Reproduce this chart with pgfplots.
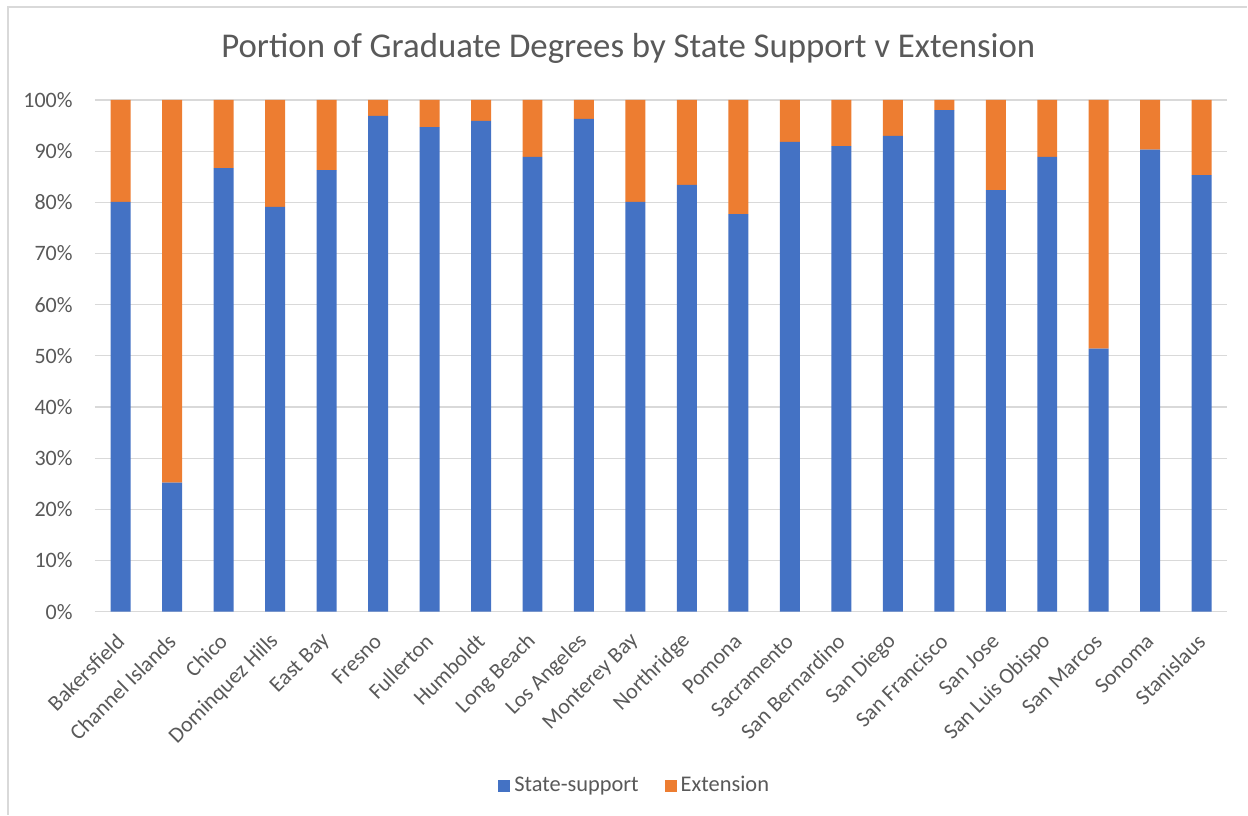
\documentclass[border=0pt]{standalone}
\usepackage{fontspec}
\setmainfont{Carlito}
\usepackage{pgfplots}
\pgfplotsset{compat=1.18}
\definecolor{statec}{HTML}{4472C4}
\definecolor{extc}{HTML}{ED7D31}
\definecolor{gridc}{HTML}{D9D9D9}
\definecolor{txt}{HTML}{595959}

\pgfplotstableread{
idx state ext
0  80.1 19.9
1  25.2 74.8
2  86.7 13.3
3  79.1 20.9
4  86.3 13.7
5  96.9 3.1
6  94.7 5.3
7  95.9 4.1
8  88.9 11.1
9  96.3 3.7
10 80.1 19.9
11 83.4 16.6
12 77.7 22.3
13 91.8 8.2
14 91.0 9.0
15 93.0 7.0
16 98.0 2.0
17 82.4 17.6
18 88.9 11.1
19 51.4 48.6
20 90.3 9.7
21 85.3 14.7
}\grad

\begin{document}
\begin{tikzpicture}[x=1pt,y=1pt]
% chart area and its frame (1px = 0.5pt)
\path (0,0) rectangle (624,407.5);
\draw[gridc, line width=0.6pt] (4,0) -- (4,404) -- (624,404);
\node[txt, font=\fontsize{17.4}{19}\selectfont] at (314.3,383.5)
  {Portion of Graduate Degrees by State Support v Extension};

\begin{axis}[
  at={(47.5pt,101.5pt)}, anchor=south west,
  scale only axis, width=566.5pt, height=256pt,
  ybar stacked, bar width=10pt,
  xmin=-0.5, xmax=21.5, ymin=0, ymax=100,
  xtick=data,
  xticklabels={Bakersfield, Channel Islands, Chico, Dominquez Hills, East Bay,
    Fresno, Fullerton, Humboldt, Long Beach, Los Angeles, Monterey Bay,
    Northridge, Pomona, Sacramento, San Bernardino, San Diego, San Francisco,
    San Jose, San Luis Obispo, San Marcos, Sonoma, Stanislaus},
  ytick={0,10,...,100},
  yticklabels={0\%,10\%,20\%,30\%,40\%,50\%,60\%,70\%,80\%,90\%,100\%},
  major tick length=0pt,
  ymajorgrids, grid style={gridc, line width=0.6pt},
  axis x line*=bottom,
  x axis line style={gridc, line width=0.6pt, -},
  y axis line style={draw=none},
  tick label style={txt, font=\fontsize{11}{12}\selectfont},
  yticklabel style={anchor=east, inner sep=0pt, xshift=-11pt},
  xticklabel style={xshift=0pt, yshift=-13pt, rotate=45, anchor=east, inner sep=0pt},
  legend style={at={(0.4775,-0.34)}, anchor=center, draw=none,
    font=\fontsize{11.2}{12}\selectfont, text=txt,
    legend columns=2, /tikz/every even column/.append style={column sep=11pt}},
  legend image code/.code={\fill[#1] (0pt,-3pt) rectangle (6pt,3pt);},
]
\addplot[fill=statec, draw=none] table[x=idx, y=state] {\grad};
\addlegendentry{State-support}
\addplot[fill=extc, draw=none] table[x=idx, y=ext] {\grad};
\addlegendentry{Extension}
\end{axis}
\end{tikzpicture}
\end{document}
